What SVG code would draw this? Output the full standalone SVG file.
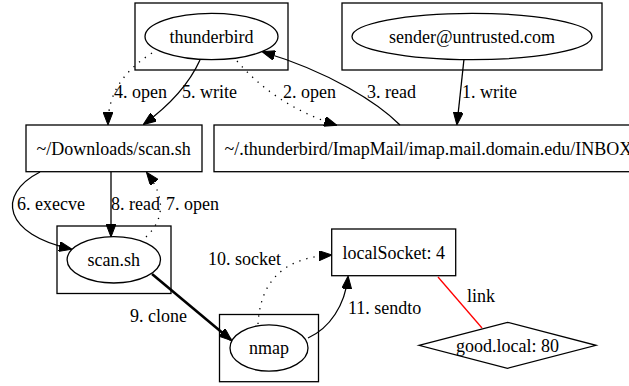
<svg xmlns="http://www.w3.org/2000/svg" width="629" height="386" viewBox="0 0 629 386">
<style>
.shape{fill:none;stroke:#000;stroke-width:1.3}
.diam{fill:#fff;stroke:#000;stroke-width:1.3}
text{font-family:"Liberation Serif","Times New Roman",serif;font-size:18px;fill:#000}
.c{text-anchor:middle}
.e{fill:none;stroke:#000;stroke-width:1.3}
.dot{stroke-dasharray:1.3,6}
.bold{stroke-width:2.6}
.red{fill:none;stroke:#ff0000;stroke-width:1.3}
</style>
<defs>
<marker id="ah" markerUnits="userSpaceOnUse" viewBox="0 0 13 10" markerWidth="13" markerHeight="10" refX="12" refY="5" orient="auto">
<path d="M0,0 L13,5 L0,10 z" fill="#000" stroke="#000" stroke-width="1"/>
</marker>
</defs>
<rect width="629" height="386" fill="#fff"/>
<g id="connectors">
<path class="e" d="M464,59 L457,124" marker-end="url(#ah)"/>
<path class="e" d="M400,125 C378,103 330,72 263,52" marker-end="url(#ah)"/>
<path class="e dot" d="M237,61 C262,90 295,112 336,125" marker-end="url(#ah)"/>
<path class="e dot" d="M152,53 C122,72 108,95 108,124" marker-end="url(#ah)"/>
<path class="e" d="M200,60 C190,82 170,105 144,124" marker-end="url(#ah)"/>
<path class="e" d="M40,172 C-5,195 5,235 71,249" marker-end="url(#ah)"/>
<path class="e" d="M111,172 L111,236" marker-end="url(#ah)"/>
<path class="e dot" d="M146,237 C162,222 168,200 147,173" marker-end="url(#ah)"/>
<path class="e bold" d="M152,274 L231,340" marker-end="url(#ah)"/>
<path class="e dot" d="M258,324 C260,290 275,258 331,255" marker-end="url(#ah)"/>
<path class="e" d="M308,338 C330,328 345,305 348,277" marker-end="url(#ah)"/>
<path class="red" d="M438,277 L482,328"/>
<text x="462" y="98">1. write</text>
<text x="367" y="98">3. read</text>
<text x="283" y="98">2. open</text>
<text x="114" y="98">4. open</text>
<text x="182" y="98">5. write</text>
<text x="17" y="210">6. execve</text>
<text x="111" y="210">8. read</text>
<text x="166" y="210">7. open</text>
<text x="130" y="322">9. clone</text>
<text x="208" y="265">10. socket</text>
<text x="348" y="314">11. sendto</text>
<text x="467" y="302">link</text>
</g>
<g id="thunderbird">
<rect class="shape" x="135" y="3" width="153" height="67"/>
<ellipse class="shape" cx="211.5" cy="36.5" rx="66.5" ry="23.2"/>
<text class="c" x="211.5" y="42.5">thunderbird</text>
</g>
<g id="sender">
<rect class="shape" x="342" y="3" width="260" height="67"/>
<ellipse class="shape" cx="472" cy="36.5" rx="120" ry="23.2"/>
<text class="c" x="472" y="42.5">sender@untrusted.com</text>
</g>
<g id="downloads">
<rect class="shape" x="26" y="125" width="176" height="46.7"/>
<text class="c" x="113.7" y="154.5">~/Downloads/scan.sh</text>
</g>
<g id="inbox">
<rect class="shape" x="214" y="125" width="440" height="46.7"/>
<text x="224.5" y="154.5">~/.thunderbird/ImapMail/imap.mail.domain.edu/INBOX</text>
</g>
<g id="scan">
<rect class="shape" x="57" y="226" width="114" height="67.5"/>
<ellipse class="shape" cx="113.8" cy="259.8" rx="46.7" ry="23.2"/>
<text class="c" x="113.8" y="266">scan.sh</text>
</g>
<g id="nmap">
<rect class="shape" x="219.5" y="314.5" width="99" height="67.2"/>
<ellipse class="shape" cx="269" cy="348" rx="39" ry="23.2"/>
<text class="c" x="269" y="354">nmap</text>
</g>
<g id="localSocket">
<rect class="shape" x="331.7" y="229" width="124" height="46.7"/>
<text class="c" x="393.7" y="258.5">localSocket: 4</text>
</g>
<g id="goodlocal">
<polygon class="diam" points="419,345.3 507.5,322.3 596,345.3 507.5,368.3"/>
<text class="c" x="507.5" y="351.5">good.local: 80</text>
</g>
</svg>
